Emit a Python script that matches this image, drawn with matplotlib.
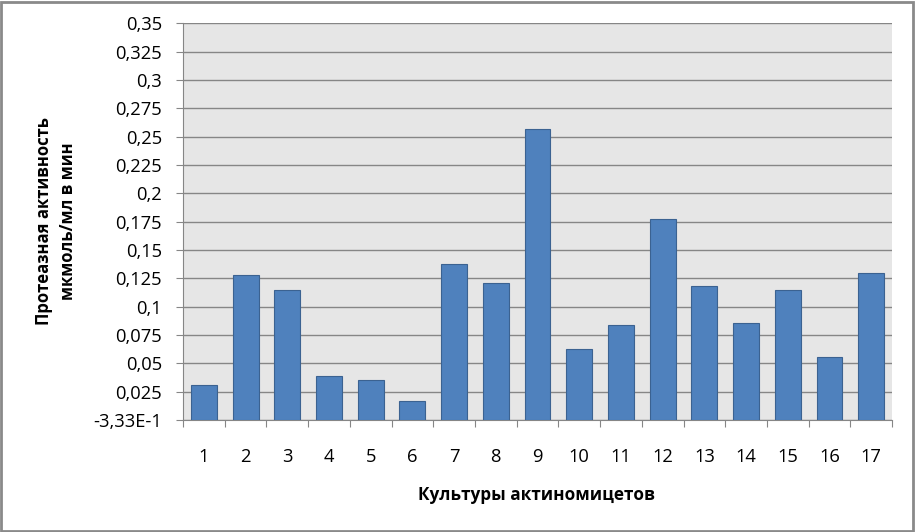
import matplotlib
matplotlib.use("Agg")
import matplotlib.pyplot as plt
import numpy as np
from matplotlib.patches import Rectangle

# data
cultures = [str(i) for i in range(1, 18)]
activity = [0.031, 0.128, 0.115, 0.039, 0.035, 0.017, 0.138, 0.121, 0.257,
            0.063, 0.084, 0.177, 0.118, 0.086, 0.115, 0.056, 0.130]
y_ticks = [0, 0.025, 0.05, 0.075, 0.1, 0.125, 0.15, 0.175, 0.2, 0.225,
           0.25, 0.275, 0.3, 0.325, 0.35]
y_tick_labels = ["-3,33E-1", "0,025", "0,05", "0,075", "0,1", "0,125", "0,15",
                 "0,175", "0,2", "0,225", "0,25", "0,275", "0,3", "0,325", "0,35"]
y_label = "Протеазная активность\nмкмоль/мл в мин"
x_label = "Культуры актиномицетов"

plt.rcParams['font.family'] = ['Open Sans', 'DejaVu Sans']

fig = plt.figure(figsize=(9.15, 5.32), dpi=100)
ax = fig.add_axes([0.2, 0.2105, 0.775, 0.7455])

x = np.arange(len(cultures))
ax.bar(x, activity, width=0.62, color="#4F81BD", edgecolor="#3B6291",
       linewidth=0.8, zorder=3)

ax.set_xlim(-0.5, len(cultures) - 0.5)
ax.set_ylim(0, 0.35)
ax.set_facecolor("#E6E6E6")

ax.set_yticks(y_ticks)
ax.set_yticklabels(y_tick_labels, fontsize=13.2)
ax.yaxis.grid(True, color="#868686", linewidth=1.0, zorder=0)
ax.set_axisbelow(True)

# x ticks between categories, labels centred under bars
ax.set_xticks(np.arange(-0.5, len(cultures)), minor=False)
ax.set_xticklabels([])
ax.set_xticks(x, minor=True)
ax.set_xticklabels(cultures, minor=True, fontsize=13.2)
ax.tick_params(axis="x", which="minor", length=0, pad=20)
ax.tick_params(axis="x", which="major", length=5, color="#868686", direction="out")
ax.tick_params(axis="y", length=5, color="#868686", direction="out", pad=10)

for side in ["top", "right"]:
    ax.spines[side].set_visible(False)
for side in ["left", "bottom"]:
    ax.spines[side].set_color("#868686")

fig.text(56 / 915, 0.584, y_label, rotation=90, ha="center", va="center",
         fontsize=12, fontweight="bold", linespacing=1.4)
fig.text(536 / 915, 1 - 495 / 532, x_label, ha="center", va="center",
         fontsize=12.3, fontweight="bold")

fig.patches.append(Rectangle((0.001, 0.002), 0.997, 0.995, transform=fig.transFigure,
                             fill=False, edgecolor="#8A8A8A", linewidth=2))

fig.savefig("out.png", dpi=100)
